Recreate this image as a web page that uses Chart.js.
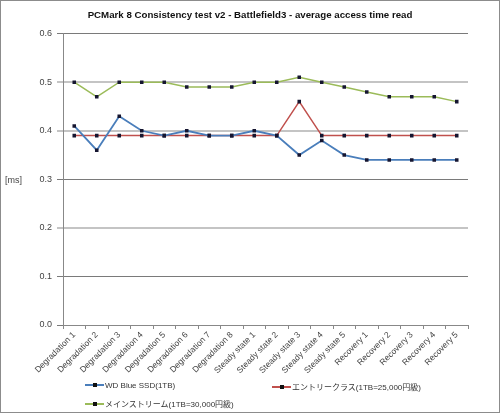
<!DOCTYPE html>
<html>
<head>
<meta charset="utf-8">
<script src="https://cdn.jsdelivr.net/npm/chart.js@4"></script>
<style>
  body { margin: 0; background: #fff; }
  #wrap { position: relative; width: 500px; height: 413px; font-family: 'Liberation Sans', 'Noto Sans CJK JP', sans-serif; }
  #frame { position: absolute; left: 0; top: 0; width: 498px; height: 411px; border: 1px solid #8c8c8c; pointer-events: none; }
  #unit { position: absolute; left: 5px; top: 175px; font-size: 9px; color: #444; }
  .leg { position: absolute; font-size: 8px; color: #333; white-space: nowrap; }
  .leg .mk { display: inline-block; position: relative; width: 19px; height: 2px; vertical-align: middle; margin-right: 1px; top: -1px; }
  .leg .mk i { position: absolute; left: 8px; top: -1px; width: 4px; height: 4px; background: #111; }
</style>
</head>
<body>
<div id="wrap">
  <canvas id="chart" width="500" height="413"></canvas>
  <div id="unit">[ms]</div>
  <div id="legend"></div>
  <div id="frame"></div>
</div>
<script>
const categories = ["Degradation 1","Degradation 2","Degradation 3","Degradation 4","Degradation 5","Degradation 6","Degradation 7","Degradation 8",
  "Steady state 1","Steady state 2","Steady state 3","Steady state 4","Steady state 5",
  "Recovery 1","Recovery 2","Recovery 3","Recovery 4","Recovery 5"]

const wdBlue = [0.41,0.36,0.43,0.40,0.39,0.40,0.39,0.39,0.40,0.39,0.35,0.38,0.35,0.34,0.34,0.34,0.34,0.34]
const entry = [0.39,0.39,0.39,0.39,0.39,0.39,0.39,0.39,0.39,0.39,0.46,0.39,0.39,0.39,0.39,0.39,0.39,0.39]
const mainstream = [0.50,0.47,0.50,0.50,0.50,0.49,0.49,0.49,0.50,0.50,0.51,0.50,0.49,0.48,0.47,0.47,0.47,0.46]

const seriesNames = ["WD Blue SSD(1TB)", "エントリークラス(1TB=25,000円級)", "メインストリーム(1TB=30,000円級)"]
const seriesColors = ['#4a7ebb', '#c0504d', '#9bbb59']

const fontFamily = "'Liberation Sans', 'Noto Sans CJK JP', sans-serif"

function makeSet(i, data, width) {
    return {
        label: seriesNames[i],
        data: data,
        borderColor: seriesColors[i],
        borderWidth: width,
        tension: 0,
        pointStyle: 'rect',
        pointRadius: 2.5,
        pointBackgroundColor: '#151530',
        pointBorderColor: '#151530',
        pointBorderWidth: 0
    }
}

// grid lines look alternately light/thick and dark/thin in the picture
const lightLines = [0.2, 0.4, 0.5]

let chart = new Chart(document.getElementById("chart"), {
    type: 'line',
    data: {
        labels: categories,
        datasets: [
            makeSet(0, wdBlue, 1.8),
            makeSet(1, entry, 1.5),
            makeSet(2, mainstream, 1.5)
        ]
    },
    options: {
        responsive: false,
        animation: false,
        layout: {
            padding: { left: 0, right: 0, top: 0, bottom: 38 }
        },
        plugins: {
            legend: { display: false },
            tooltip: { enabled: false },
            title: {
                display: true,
                text: 'PCMark 8 Consistency test v2 - Battlefield3 - average access time read',
                color: '#111',
                font: { family: fontFamily, size: 9.7, weight: 'bold' },
                padding: { top: 10, bottom: 12 }
            }
        },
        scales: {
            x: {
                offset: true,
                afterFit: function(scale) { scale.height = 50 },
                grid: {
                    offset: true,
                    drawOnChartArea: false,
                    drawTicks: true,
                    tickLength: 4,
                    color: '#888'
                },
                border: { color: '#888' },
                ticks: {
                    autoSkip: false,
                    maxRotation: 45,
                    minRotation: 45,
                    padding: 1,
                    color: '#444',
                    font: { family: fontFamily, size: 8.5 }
                }
            },
            y: {
                min: 0,
                max: 0.6,
                afterFit: function(scale) { scale.width = 63 },
                grid: {
                    tickLength: 6,
                    color: function(ctx) {
                        return lightLines.some(v => Math.abs(v - ctx.tick.value) < 1e-6) ? '#c4c4c4' : '#7a7a7a'
                    },
                    lineWidth: function(ctx) {
                        return lightLines.some(v => Math.abs(v - ctx.tick.value) < 1e-6) ? 2 : 1
                    }
                },
                border: { color: '#888' },
                ticks: {
                    stepSize: 0.1,
                    padding: 5,
                    color: '#444',
                    font: { family: fontFamily, size: 9 },
                    callback: function(value) { return value.toFixed(1) }
                }
            },
            // empty right axis, only keeps the blank strip right of the plot
            yRight: {
                position: 'right',
                min: 0,
                max: 0.6,
                afterFit: function(scale) { scale.width = 32 },
                grid: { display: false },
                border: { display: false },
                ticks: { display: false }
            }
        }
    }
})

// legend laid out in two columns like the original
const legendPos = [[85, 381], [272, 381], [85, 398]]
const legendBox = document.getElementById("legend")
seriesNames.forEach(function(name, i) {
    const el = document.createElement("div")
    el.className = "leg"
    el.style.left = legendPos[i][0] + "px"
    el.style.top = legendPos[i][1] + "px"
    el.innerHTML = '<span class="mk" style="background:' + seriesColors[i] + '"><i></i></span>' + name
    legendBox.appendChild(el)
})
</script>
</body>
</html>
